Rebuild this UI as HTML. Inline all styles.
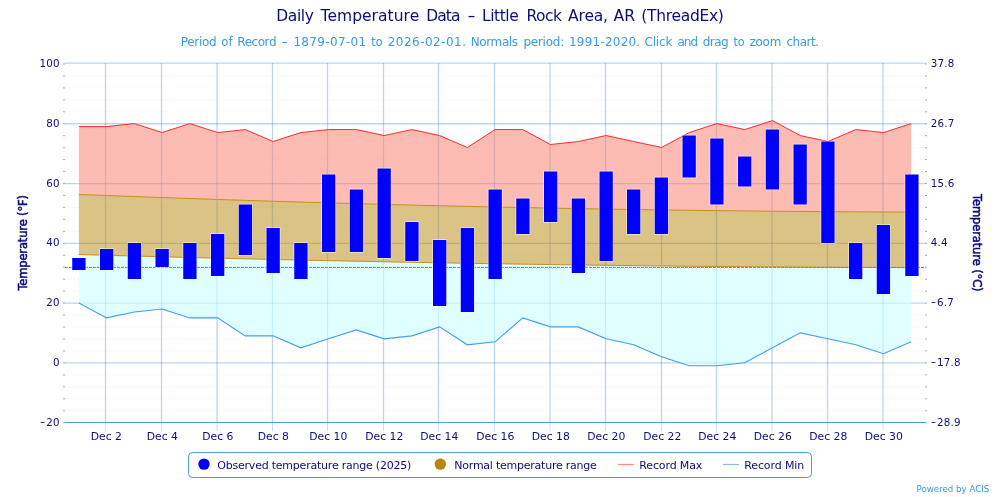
<!DOCTYPE html>
<html lang="en"><head><meta charset="utf-8"><title>Daily Temperature Data - Little Rock Area, AR (ThreadEx)</title>
<style>
html,body{margin:0;padding:0;background:#fff;}
body{width:1000px;height:497px;overflow:hidden;font-family:"DejaVu Sans","Liberation Sans",sans-serif;}
svg{display:block;}
</style></head><body>
<svg width="1000" height="497" viewBox="0 0 1000 497" font-family="DejaVu Sans, Liberation Sans, sans-serif">
<rect x="0" y="0" width="1000" height="497" fill="#ffffff"/>
<g stroke="#f1ebe7" stroke-width="1" stroke-dasharray="1 3" fill="none">
<path d="M65.5 75.91 H925"/>
<path d="M65.5 87.87 H925"/>
<path d="M65.5 99.82 H925"/>
<path d="M65.5 111.78 H925"/>
<path d="M65.5 135.70 H925"/>
<path d="M65.5 147.66 H925"/>
<path d="M65.5 159.61 H925"/>
<path d="M65.5 171.57 H925"/>
<path d="M65.5 195.49 H925"/>
<path d="M65.5 207.45 H925"/>
<path d="M65.5 219.40 H925"/>
<path d="M65.5 231.36 H925"/>
<path d="M65.5 255.28 H925"/>
<path d="M65.5 267.24 H925"/>
<path d="M65.5 279.19 H925"/>
<path d="M65.5 291.15 H925"/>
<path d="M65.5 315.07 H925"/>
<path d="M65.5 327.03 H925"/>
<path d="M65.5 338.98 H925"/>
<path d="M65.5 350.94 H925"/>
<path d="M65.5 374.86 H925"/>
<path d="M65.5 386.82 H925"/>
<path d="M65.5 398.77 H925"/>
<path d="M65.5 410.73 H925"/>
</g>
<g stroke="rgba(40,120,205,0.31)" stroke-width="1.3" fill="none">
<path d="M65 63.20 H925"/>
<path d="M65 123.74 H925"/>
<path d="M65 183.53 H925"/>
<path d="M65 243.32 H925"/>
<path d="M65 303.11 H925"/>
<path d="M65 362.90 H925"/>
<path d="M105.5 63 V422"/>
<path d="M161.5 63 V422"/>
<path d="M217.0 63 V422"/>
<path d="M272.5 63 V422"/>
<path d="M327.5 63 V422"/>
<path d="M383.5 63 V422"/>
<path d="M438.5 63 V422"/>
<path d="M494.5 63 V422"/>
<path d="M550.0 63 V422"/>
<path d="M605.5 63 V422"/>
<path d="M661.5 63 V422"/>
<path d="M716.5 63 V422"/>
<path d="M772.0 63 V422"/>
<path d="M827.5 63 V422"/>
<path d="M883.0 63 V422"/>
</g>
<g stroke="#cfdcee" stroke-width="1" fill="none">
<path d="M105.5 423 V431"/>
<path d="M161.5 423 V431"/>
<path d="M217.0 423 V431"/>
<path d="M272.5 423 V431"/>
<path d="M327.5 423 V431"/>
<path d="M383.5 423 V431"/>
<path d="M438.5 423 V431"/>
<path d="M494.5 423 V431"/>
<path d="M550.0 423 V431"/>
<path d="M605.5 423 V431"/>
<path d="M661.5 423 V431"/>
<path d="M716.5 423 V431"/>
<path d="M772.0 423 V431"/>
<path d="M827.5 423 V431"/>
<path d="M883.0 423 V431"/>
</g>
<g stroke="#a6a6a6" stroke-width="1" fill="none">
<path d="M63 63.9 H65 M925 63.9 H927"/>
<path d="M63 75.9 H65 M925 75.9 H927"/>
<path d="M63 87.9 H65 M925 87.9 H927"/>
<path d="M63 99.8 H65 M925 99.8 H927"/>
<path d="M63 111.8 H65 M925 111.8 H927"/>
<path d="M63 123.7 H65 M925 123.7 H927"/>
<path d="M63 135.7 H65 M925 135.7 H927"/>
<path d="M63 147.7 H65 M925 147.7 H927"/>
<path d="M63 159.6 H65 M925 159.6 H927"/>
<path d="M63 171.6 H65 M925 171.6 H927"/>
<path d="M63 183.5 H65 M925 183.5 H927"/>
<path d="M63 195.5 H65 M925 195.5 H927"/>
<path d="M63 207.4 H65 M925 207.4 H927"/>
<path d="M63 219.4 H65 M925 219.4 H927"/>
<path d="M63 231.4 H65 M925 231.4 H927"/>
<path d="M63 243.3 H65 M925 243.3 H927"/>
<path d="M63 255.3 H65 M925 255.3 H927"/>
<path d="M63 267.2 H65 M925 267.2 H927"/>
<path d="M63 279.2 H65 M925 279.2 H927"/>
<path d="M63 291.2 H65 M925 291.2 H927"/>
<path d="M63 303.1 H65 M925 303.1 H927"/>
<path d="M63 315.1 H65 M925 315.1 H927"/>
<path d="M63 327.0 H65 M925 327.0 H927"/>
<path d="M63 339.0 H65 M925 339.0 H927"/>
<path d="M63 350.9 H65 M925 350.9 H927"/>
<path d="M63 362.9 H65 M925 362.9 H927"/>
<path d="M63 374.9 H65 M925 374.9 H927"/>
<path d="M63 386.8 H65 M925 386.8 H927"/>
<path d="M63 398.8 H65 M925 398.8 H927"/>
<path d="M63 410.7 H65 M925 410.7 H927"/>
<path d="M63 422.7 H65 M925 422.7 H927"/>
</g>
<path d="M 78.87 126.58 L 106.62 126.58 L 134.36 123.59 L 162.11 132.56 L 189.85 123.59 L 217.59 132.56 L 245.34 129.57 L 273.09 141.53 L 300.83 132.56 L 328.58 129.57 L 356.32 129.57 L 384.06 135.55 L 411.81 129.57 L 439.56 135.55 L 467.30 147.51 L 495.05 129.57 L 522.79 129.57 L 550.54 144.52 L 578.28 141.53 L 606.02 135.55 L 633.77 141.53 L 661.51 147.51 L 689.26 132.56 L 717.00 123.59 L 744.75 129.57 L 772.50 120.60 L 800.24 135.55 L 827.99 141.53 L 855.73 129.57 L 883.48 132.56 L 911.22 123.59 L 911.22 212.08 L 883.48 211.97 L 855.73 211.83 L 827.99 211.66 L 800.24 211.45 L 772.50 211.22 L 744.75 210.94 L 717.00 210.64 L 689.26 210.30 L 661.51 209.93 L 633.77 209.52 L 606.02 209.08 L 578.28 208.61 L 550.54 208.11 L 522.79 207.57 L 495.05 207.00 L 467.30 206.39 L 439.56 205.75 L 411.81 205.08 L 384.06 204.38 L 356.32 203.64 L 328.58 202.87 L 300.83 202.07 L 273.09 201.23 L 245.34 200.36 L 217.59 199.46 L 189.85 198.52 L 162.11 197.55 L 134.36 196.55 L 106.62 195.51 L 78.87 194.44 Z" fill="rgb(249,121,105)" fill-opacity="0.5"/>
<path d="M 78.87 254.53 L 106.62 255.31 L 134.36 256.06 L 162.11 256.79 L 189.85 257.49 L 217.59 258.18 L 245.34 258.83 L 273.09 259.47 L 300.83 260.08 L 328.58 260.67 L 356.32 261.24 L 384.06 261.78 L 411.81 262.30 L 439.56 262.80 L 467.30 263.27 L 495.05 263.72 L 522.79 264.15 L 550.54 264.55 L 578.28 264.93 L 606.02 265.29 L 633.77 265.62 L 661.51 265.94 L 689.26 266.22 L 717.00 266.49 L 744.75 266.73 L 772.50 266.94 L 800.24 267.14 L 827.99 267.31 L 855.73 267.46 L 883.48 267.58 L 911.22 267.68 L 911.22 341.82 L 883.48 353.78 L 855.73 344.81 L 827.99 338.83 L 800.24 332.86 L 772.50 347.80 L 744.75 362.75 L 717.00 365.74 L 689.26 365.74 L 661.51 356.77 L 633.77 344.81 L 606.02 338.83 L 578.28 326.88 L 550.54 326.88 L 522.79 317.91 L 495.05 341.82 L 467.30 344.81 L 439.56 326.88 L 411.81 335.84 L 384.06 338.83 L 356.32 329.87 L 328.58 338.83 L 300.83 347.80 L 273.09 335.84 L 245.34 335.84 L 217.59 317.91 L 189.85 317.91 L 162.11 308.94 L 134.36 311.93 L 106.62 317.91 L 78.87 302.96 Z" fill="rgb(203,255,255)" fill-opacity="0.6"/>
<path d="M 78.87 194.44 L 106.62 195.51 L 134.36 196.55 L 162.11 197.55 L 189.85 198.52 L 217.59 199.46 L 245.34 200.36 L 273.09 201.23 L 300.83 202.07 L 328.58 202.87 L 356.32 203.64 L 384.06 204.38 L 411.81 205.08 L 439.56 205.75 L 467.30 206.39 L 495.05 207.00 L 522.79 207.57 L 550.54 208.11 L 578.28 208.61 L 606.02 209.08 L 633.77 209.52 L 661.51 209.93 L 689.26 210.30 L 717.00 210.64 L 744.75 210.94 L 772.50 211.22 L 800.24 211.45 L 827.99 211.66 L 855.73 211.83 L 883.48 211.97 L 911.22 212.08 L 911.22 267.68 L 883.48 267.58 L 855.73 267.46 L 827.99 267.31 L 800.24 267.14 L 772.50 266.94 L 744.75 266.73 L 717.00 266.49 L 689.26 266.22 L 661.51 265.94 L 633.77 265.62 L 606.02 265.29 L 578.28 264.93 L 550.54 264.55 L 522.79 264.15 L 495.05 263.72 L 467.30 263.27 L 439.56 262.80 L 411.81 262.30 L 384.06 261.78 L 356.32 261.24 L 328.58 260.67 L 300.83 260.08 L 273.09 259.47 L 245.34 258.83 L 217.59 258.18 L 189.85 257.49 L 162.11 256.79 L 134.36 256.06 L 106.62 255.31 L 78.87 254.53 Z" fill="rgb(184,134,11)" fill-opacity="0.5"/>
<path d="M 78.87 194.44 L 106.62 195.51 L 134.36 196.55 L 162.11 197.55 L 189.85 198.52 L 217.59 199.46 L 245.34 200.36 L 273.09 201.23 L 300.83 202.07 L 328.58 202.87 L 356.32 203.64 L 384.06 204.38 L 411.81 205.08 L 439.56 205.75 L 467.30 206.39 L 495.05 207.00 L 522.79 207.57 L 550.54 208.11 L 578.28 208.61 L 606.02 209.08 L 633.77 209.52 L 661.51 209.93 L 689.26 210.30 L 717.00 210.64 L 744.75 210.94 L 772.50 211.22 L 800.24 211.45 L 827.99 211.66 L 855.73 211.83 L 883.48 211.97 L 911.22 212.08" fill="none" stroke="#c8901c" stroke-width="1"/>
<path d="M 78.87 254.53 L 106.62 255.31 L 134.36 256.06 L 162.11 256.79 L 189.85 257.49 L 217.59 258.18 L 245.34 258.83 L 273.09 259.47 L 300.83 260.08 L 328.58 260.67 L 356.32 261.24 L 384.06 261.78 L 411.81 262.30 L 439.56 262.80 L 467.30 263.27 L 495.05 263.72 L 522.79 264.15 L 550.54 264.55 L 578.28 264.93 L 606.02 265.29 L 633.77 265.62 L 661.51 265.94 L 689.26 266.22 L 717.00 266.49 L 744.75 266.73 L 772.50 266.94 L 800.24 267.14 L 827.99 267.31 L 855.73 267.46 L 883.48 267.58 L 911.22 267.68" fill="none" stroke="#c8901c" stroke-width="1"/>
<path d="M 78.87 126.58 L 106.62 126.58 L 134.36 123.59 L 162.11 132.56 L 189.85 123.59 L 217.59 132.56 L 245.34 129.57 L 273.09 141.53 L 300.83 132.56 L 328.58 129.57 L 356.32 129.57 L 384.06 135.55 L 411.81 129.57 L 439.56 135.55 L 467.30 147.51 L 495.05 129.57 L 522.79 129.57 L 550.54 144.52 L 578.28 141.53 L 606.02 135.55 L 633.77 141.53 L 661.51 147.51 L 689.26 132.56 L 717.00 123.59 L 744.75 129.57 L 772.50 120.60 L 800.24 135.55 L 827.99 141.53 L 855.73 129.57 L 883.48 132.56 L 911.22 123.59" fill="none" stroke="#ff2a2a" stroke-width="1"/>
<path d="M 78.87 302.96 L 106.62 317.91 L 134.36 311.93 L 162.11 308.94 L 189.85 317.91 L 217.59 317.91 L 245.34 335.84 L 273.09 335.84 L 300.83 347.80 L 328.58 338.83 L 356.32 329.87 L 384.06 338.83 L 411.81 335.84 L 439.56 326.88 L 467.30 344.81 L 495.05 341.82 L 522.79 317.91 L 550.54 326.88 L 578.28 326.88 L 606.02 338.83 L 633.77 344.81 L 661.51 356.77 L 689.26 365.74 L 717.00 365.74 L 744.75 362.75 L 772.50 347.80 L 800.24 332.86 L 827.99 338.83 L 855.73 344.81 L 883.48 353.78 L 911.22 341.82" fill="none" stroke="#3f9ff0" stroke-width="1.1"/>
<path d="M65 267.4 H925" stroke="#6a80ee" stroke-width="1" stroke-dasharray="3 1" fill="none"/>
<path d="M65 422.5 H925" stroke="#4a9fe0" stroke-width="1.2" fill="none"/>
<g fill="#ffffff" fill-opacity="0.55"><rect x="71.45" y="257.20" width="14.90" height="13.60"/><rect x="99.20" y="248.20" width="14.90" height="22.60"/><rect x="126.95" y="242.20" width="14.90" height="37.60"/><rect x="154.70" y="248.20" width="14.90" height="19.60"/><rect x="182.45" y="242.20" width="14.90" height="37.60"/><rect x="210.20" y="233.20" width="14.90" height="43.60"/><rect x="237.95" y="203.70" width="14.90" height="52.10"/><rect x="265.70" y="227.20" width="14.90" height="46.60"/><rect x="293.45" y="242.20" width="14.90" height="37.60"/><rect x="321.20" y="173.70" width="14.90" height="79.10"/><rect x="348.95" y="188.70" width="14.90" height="64.10"/><rect x="376.70" y="167.70" width="14.90" height="91.10"/><rect x="404.45" y="221.20" width="14.90" height="40.60"/><rect x="432.20" y="239.20" width="14.90" height="67.60"/><rect x="459.95" y="227.20" width="14.90" height="85.60"/><rect x="487.70" y="188.70" width="14.90" height="91.10"/><rect x="515.45" y="197.70" width="14.90" height="37.10"/><rect x="543.20" y="170.70" width="14.90" height="52.10"/><rect x="570.95" y="197.70" width="14.90" height="76.10"/><rect x="598.70" y="170.70" width="14.90" height="91.10"/><rect x="626.20" y="188.70" width="14.90" height="46.10"/><rect x="653.95" y="176.70" width="14.90" height="58.10"/><rect x="681.70" y="134.70" width="14.90" height="43.60"/><rect x="709.45" y="137.70" width="14.90" height="67.60"/><rect x="737.20" y="155.70" width="14.90" height="31.60"/><rect x="764.95" y="128.70" width="14.90" height="61.60"/><rect x="792.70" y="143.70" width="14.90" height="61.60"/><rect x="820.45" y="140.70" width="14.90" height="103.10"/><rect x="848.20" y="242.20" width="14.90" height="37.60"/><rect x="875.95" y="224.20" width="14.90" height="70.60"/><rect x="904.45" y="173.70" width="14.90" height="103.10"/></g>
<g fill="#0000ff"><rect x="72.25" y="258.00" width="13.3" height="12.00"/><rect x="100.00" y="249.00" width="13.3" height="21.00"/><rect x="127.75" y="243.00" width="13.3" height="36.00"/><rect x="155.50" y="249.00" width="13.3" height="18.00"/><rect x="183.25" y="243.00" width="13.3" height="36.00"/><rect x="211.00" y="234.00" width="13.3" height="42.00"/><rect x="238.75" y="204.50" width="13.3" height="50.50"/><rect x="266.50" y="228.00" width="13.3" height="45.00"/><rect x="294.25" y="243.00" width="13.3" height="36.00"/><rect x="322.00" y="174.50" width="13.3" height="77.50"/><rect x="349.75" y="189.50" width="13.3" height="62.50"/><rect x="377.50" y="168.50" width="13.3" height="89.50"/><rect x="405.25" y="222.00" width="13.3" height="39.00"/><rect x="433.00" y="240.00" width="13.3" height="66.00"/><rect x="460.75" y="228.00" width="13.3" height="84.00"/><rect x="488.50" y="189.50" width="13.3" height="89.50"/><rect x="516.25" y="198.50" width="13.3" height="35.50"/><rect x="544.00" y="171.50" width="13.3" height="50.50"/><rect x="571.75" y="198.50" width="13.3" height="74.50"/><rect x="599.50" y="171.50" width="13.3" height="89.50"/><rect x="627.00" y="189.50" width="13.3" height="44.50"/><rect x="654.75" y="177.50" width="13.3" height="56.50"/><rect x="682.50" y="135.50" width="13.3" height="42.00"/><rect x="710.25" y="138.50" width="13.3" height="66.00"/><rect x="738.00" y="156.50" width="13.3" height="30.00"/><rect x="765.75" y="129.50" width="13.3" height="60.00"/><rect x="793.50" y="144.50" width="13.3" height="60.00"/><rect x="821.25" y="141.50" width="13.3" height="101.50"/><rect x="849.00" y="243.00" width="13.3" height="36.00"/><rect x="876.75" y="225.00" width="13.3" height="69.00"/><rect x="905.25" y="174.50" width="13.3" height="101.50"/></g>
<text y="20.5" font-size="15.5px" fill="#0d0d78"><tspan x="276.3" textLength="37.6" lengthAdjust="spacing">Daily</tspan> <tspan x="320.5" textLength="98.7" lengthAdjust="spacing">Temperature</tspan> <tspan x="426.3" textLength="34.1" lengthAdjust="spacing">Data</tspan> <tspan x="467.6" textLength="8.0" lengthAdjust="spacingAndGlyphs">-</tspan> <tspan x="482.0" textLength="36.8" lengthAdjust="spacing">Little</tspan> <tspan x="526.5" textLength="35.5" lengthAdjust="spacing">Rock</tspan> <tspan x="568.1" textLength="39.9" lengthAdjust="spacing">Area,</tspan> <tspan x="613.6" textLength="21.6" lengthAdjust="spacingAndGlyphs">AR</tspan> <tspan x="641.2" textLength="82.7" lengthAdjust="spacing">(ThreadEx)</tspan></text>
<text y="46.2" font-size="12px" fill="#3d9adc"><tspan x="180.7" textLength="36.0" lengthAdjust="spacing">Period</tspan> <tspan x="221.3" textLength="11.2" lengthAdjust="spacingAndGlyphs">of</tspan> <tspan x="237.3" textLength="39.2" lengthAdjust="spacing">Record</tspan> <tspan x="281.5" textLength="6.4" lengthAdjust="spacingAndGlyphs">-</tspan> <tspan x="293.4" textLength="72.8" lengthAdjust="spacing">1879-07-01</tspan> <tspan x="371.3" textLength="11.2" lengthAdjust="spacingAndGlyphs">to</tspan> <tspan x="387.7" textLength="78.3" lengthAdjust="spacing">2026-02-01.</tspan> <tspan x="470.8" textLength="47.2" lengthAdjust="spacing">Normals</tspan> <tspan x="523.4" textLength="40.8" lengthAdjust="spacing">period:</tspan> <tspan x="569.0" textLength="71.2" lengthAdjust="spacing">1991-2020.</tspan> <tspan x="644.5" textLength="27.9" lengthAdjust="spacing">Click</tspan> <tspan x="677.4" textLength="20.8" lengthAdjust="spacing">and</tspan> <tspan x="702.7" textLength="25.9" lengthAdjust="spacing">drag</tspan> <tspan x="733.4" textLength="11.2" lengthAdjust="spacingAndGlyphs">to</tspan> <tspan x="749.4" textLength="32.0" lengthAdjust="spacing">zoom</tspan> <tspan x="786.5" textLength="32.5" lengthAdjust="spacing">chart.</tspan></text>
<g font-size="10.3px" fill="#0d0d78" letter-spacing="0.2">
<text x="59.7" y="66.9" text-anchor="end">100</text>
<text x="59.7" y="126.7" text-anchor="end">80</text>
<text x="59.7" y="186.5" text-anchor="end">60</text>
<text x="59.7" y="246.3" text-anchor="end">40</text>
<text x="59.7" y="306.1" text-anchor="end">20</text>
<text x="59.7" y="365.9" text-anchor="end">0</text>
<text x="59.7" y="425.6" text-anchor="end"><tspan textLength="5.6" lengthAdjust="spacingAndGlyphs" dy="-0.7">-</tspan><tspan dx="0.6" dy="0.7">20</tspan></text>
<text x="930.8" y="66.9">37.8</text>
<text x="930.8" y="126.7">26.7</text>
<text x="930.8" y="186.5">15.6</text>
<text x="930.8" y="246.3">4.4</text>
<text x="930.8" y="306.1"><tspan textLength="5.6" lengthAdjust="spacingAndGlyphs" dy="-0.7">-</tspan><tspan dx="0.6" dy="0.7">6.7</tspan></text>
<text x="930.8" y="365.9"><tspan textLength="5.6" lengthAdjust="spacingAndGlyphs" dy="-0.7">-</tspan><tspan dx="0.6" dy="0.7">17.8</tspan></text>
<text x="930.8" y="425.6"><tspan textLength="5.6" lengthAdjust="spacingAndGlyphs" dy="-0.7">-</tspan><tspan dx="0.6" dy="0.7">28.9</tspan></text>
</g>
<g font-size="10.8px" fill="#0d0d78">
<text x="106.3" y="439.8" text-anchor="middle">Dec 2</text>
<text x="162.3" y="439.8" text-anchor="middle">Dec 4</text>
<text x="217.8" y="439.8" text-anchor="middle">Dec 6</text>
<text x="273.3" y="439.8" text-anchor="middle">Dec 8</text>
<text x="328.3" y="439.8" text-anchor="middle">Dec 10</text>
<text x="384.3" y="439.8" text-anchor="middle">Dec 12</text>
<text x="439.3" y="439.8" text-anchor="middle">Dec 14</text>
<text x="495.3" y="439.8" text-anchor="middle">Dec 16</text>
<text x="550.8" y="439.8" text-anchor="middle">Dec 18</text>
<text x="606.3" y="439.8" text-anchor="middle">Dec 20</text>
<text x="662.3" y="439.8" text-anchor="middle">Dec 22</text>
<text x="717.3" y="439.8" text-anchor="middle">Dec 24</text>
<text x="772.8" y="439.8" text-anchor="middle">Dec 26</text>
<text x="828.3" y="439.8" text-anchor="middle">Dec 28</text>
<text x="883.8" y="439.8" text-anchor="middle">Dec 30</text>
</g>
<text transform="translate(26.5 242.8) rotate(-90)" text-anchor="middle" font-size="11.5px" stroke="#0d0d78" stroke-width="0.55" fill="#0d0d78" textLength="95.6" lengthAdjust="spacing">Temperature (°F)</text>
<text transform="translate(972.6 242.8) rotate(90)" text-anchor="middle" font-size="11.5px" stroke="#0d0d78" stroke-width="0.55" fill="#0d0d78" textLength="97.6" lengthAdjust="spacing">Temperature (°C)</text>
<rect x="188.5" y="452.5" width="623" height="25" rx="4" ry="4" fill="#ffffff" stroke="#4a9fe0" stroke-width="1"/>
<circle cx="204" cy="464.1" r="5.7" fill="#0000ff"/>
<circle cx="440.3" cy="464.1" r="5.7" fill="#b8860b"/>
<path d="M618 464.5 H634" stroke="#f98a84" stroke-width="1.2" fill="none"/>
<path d="M723 464.5 H739" stroke="#86bdf4" stroke-width="1.2" fill="none"/>
<g font-size="11px" fill="#0d0d78">
<text x="217.3" y="468.7" textLength="194" lengthAdjust="spacing">Observed temperature range (2025)</text>
<text x="454.3" y="468.7" textLength="142.5" lengthAdjust="spacing">Normal temperature range</text>
<text x="639.3" y="468.7" textLength="63" lengthAdjust="spacing">Record Max</text>
<text x="744.2" y="468.7" textLength="60" lengthAdjust="spacing">Record Min</text>
</g>
<text x="989.3" y="491.5" text-anchor="end" font-size="8.7px" fill="#3d9adc" textLength="72.8" lengthAdjust="spacing">Powered by ACIS</text>
</svg>
</body></html>
